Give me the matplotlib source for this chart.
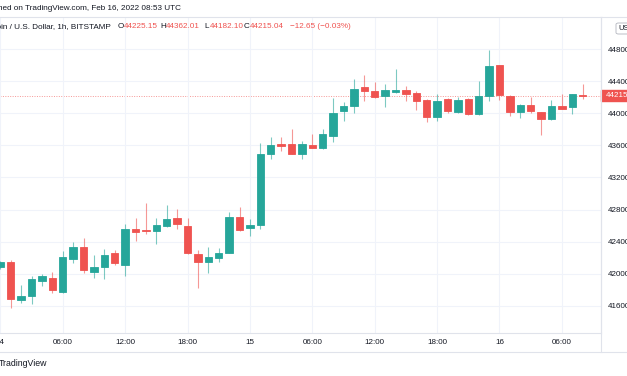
import matplotlib
matplotlib.use('Agg')
import matplotlib.pyplot as plt
from matplotlib.lines import Line2D
from matplotlib.patches import Rectangle, FancyBboxPatch

# BTC/USD 1h candles, Feb 14 00:00 -> Feb 16 08:00 (UTC)
opens = [42080, 42141, 41672, 41722, 41913, 41950, 41776, 42187, 42337, 42025,
         42083, 42262, 42112, 42561, 42544, 42528, 42598, 42690, 42598, 42245,
         42150, 42195, 42262, 42706, 42565, 42603, 43491, 43616, 43620, 43491,
         43600, 43570, 43720, 44031, 44090, 44327, 44277, 44219, 44260, 44289,
         44252, 44160, 43957, 44173, 44015, 44173, 43990, 44214, 44596, 44219,
         44015, 44098, 44019, 43928, 44090, 44073, 44225.15]
highs = [42160, 42170, 41859, 41975, 41996, 42017, 42287, 42391, 42441, 42233,
         42303, 42295, 42619, 42698, 42877, 42690, 42856, 42806, 42690, 42295,
         42337, 42316, 42765, 42827, 42681, 43629, 43708, 43699, 43807, 43654,
         43741, 43807, 44194, 44144, 44422, 44476, 44393, 44360, 44547, 44339,
         44277, 44173, 44235, 44185, 44206, 44189, 44405, 44787, 44596, 44223,
         44115, 44198, 44019, 44164, 44235, 44235, 44362.01]
lows = [42060, 41577, 41639, 41622, 41851, 41764, 41759, 42129, 42009, 41950,
        41938, 42104, 41975, 42411, 42494, 42366, 42586, 42553, 42241, 41826,
        42013, 42141, 42254, 42532, 42474, 42557, 43433, 43533, 43491, 43433,
        43562, 43558, 43645, 43903, 44007, 44152, 44185, 44073, 44248, 44156,
        44040, 43894, 43903, 43998, 44007, 43973, 43982, 44156, 44164, 43969,
        43944, 43998, 43728, 43919, 44052, 43986, 44182.10]
closes = [42140, 41689, 41726, 41934, 41975, 41793, 42212, 42337, 42042, 42088,
          42233, 42133, 42561, 42515, 42532, 42603, 42681, 42619, 42254, 42150,
          42212, 42262, 42706, 42540, 42607, 43496, 43604, 43595, 43496, 43612,
          43566, 43737, 43998, 44090, 44302, 44273, 44206, 44285, 44293, 44235,
          44156, 43948, 44156, 44031, 44165, 43986, 44214, 44588, 44231, 44019,
          44098, 44023, 43928, 44090, 44056, 44235, 44215.04]

price_levels = [41600, 42000, 42400, 42800, 43200, 43600, 44000, 44400, 44800]
time_ticks = [0, 6, 12, 18, 24, 30, 36, 42, 48, 54]
time_labels = ['14', '06:00', '12:00', '18:00', '15', '06:00', '12:00', '18:00', '16', '06:00']
last_price = 44215.04

UP = '#26a69a'
DOWN = '#ef5350'
TXT = '#131722'
GRID = '#f0f3fa'
BORDER = '#e0e3eb'

W, H = 627, 376
plt.rcParams['font.family'] = ['Liberation Sans', 'DejaVu Sans']
fig = plt.figure(figsize=(W / 100, H / 100), dpi=100)


def fx(x):
    return x / W


def fy(y):
    return 1 - y / H


# chart pane: x 0..601 px, y 17..333 px
ax = fig.add_axes([0, fy(333), fx(601), (333 - 17) / H])
ax.set_xlim(-0.03, 57.76)
ax.set_ylim(41261, 45199)

for i in range(len(opens)):
    o, h, l, c = opens[i], highs[i], lows[i], closes[i]
    col = UP if c >= o else DOWN
    ax.vlines(i, l, h, color=col, lw=0.8, alpha=0.6, zorder=2)
    ax.bar(i, abs(c - o), bottom=min(o, c), width=0.7, color=col,
           edgecolor=col, linewidth=0.6, zorder=3)

ax.axhline(last_price, color=DOWN, lw=0.7, ls=(0, (1, 1.5)), alpha=0.6, zorder=1)

ax.set_yticks(price_levels)
ax.set_yticklabels(['%.2f' % p for p in price_levels])
ax.yaxis.tick_right()
ax.set_xticks(time_ticks)
ax.set_xticklabels(time_labels)
ax.tick_params(axis='both', length=0, labelsize=5.8, colors=TXT)
ax.tick_params(axis='y', pad=5)
ax.tick_params(axis='x', pad=4)
ax.grid(color=GRID, lw=0.8, zorder=0)
for s in ['left', 'top']:
    ax.spines[s].set_visible(False)
for s in ['right', 'bottom']:
    ax.spines[s].set_color(BORDER)
    ax.spines[s].set_linewidth(0.8)

# frame lines around header / axes
fig.add_artist(Line2D([0, 1], [fy(17), fy(17)], color=BORDER, lw=0.8))
fig.add_artist(Line2D([0, 1], [fy(352), fy(352)], color=BORDER, lw=0.8))
fig.add_artist(Line2D([fx(601), fx(601)], [fy(17), fy(352)], color=BORDER, lw=0.8))

# currency button top right
fig.add_artist(FancyBboxPatch((fx(616), fy(34)), fx(20), 11 / H,
                              boxstyle='round,pad=0,rounding_size=0.004',
                              facecolor='white', edgecolor='#b2b5be', lw=0.6))
fig.text(fx(618), fy(28.5), 'USD', fontsize=5.5, color=TXT, va='center')

# last price tag
fig.add_artist(Rectangle((fx(601), fy(101)), fx(26), 11 / H, color=DOWN))
fig.text(fx(606), fy(95.5), '%.2f' % last_price, color='white', fontsize=5.8, va='center')

# header texts
fig.text(fx(181), fy(8), 'Published on TradingView.com, Feb 16, 2022 08:53 UTC',
         ha='right', va='center', fontsize=5.85, color=TXT)
fig.text(fx(111), fy(27), 'Bitcoin / U.S. Dollar, 1h, BITSTAMP',
         ha='right', va='center', fontsize=5.9, color=TXT)
ohlc = [(118, 'O', '44225.15'), (160, 'H', '44362.01'), (204, 'L', '44182.10'), (244, 'C', '44215.04')]
for x, k, v in ohlc:
    fig.text(fx(x), fy(27), k, ha='left', va='center', fontsize=5.9, color=TXT)
    fig.text(fx(x + 5.5), fy(27), v, ha='left', va='center', fontsize=5.9, color=DOWN)
fig.text(fx(290), fy(27), '\u221212.65 (\u22120.03%)', ha='left', va='center', fontsize=5.9, color=DOWN)

fig.text(fx(47), fy(363), 'TradingView', ha='right', va='center', fontsize=6.3, color=TXT)

fig.savefig('out.png', dpi=100)
